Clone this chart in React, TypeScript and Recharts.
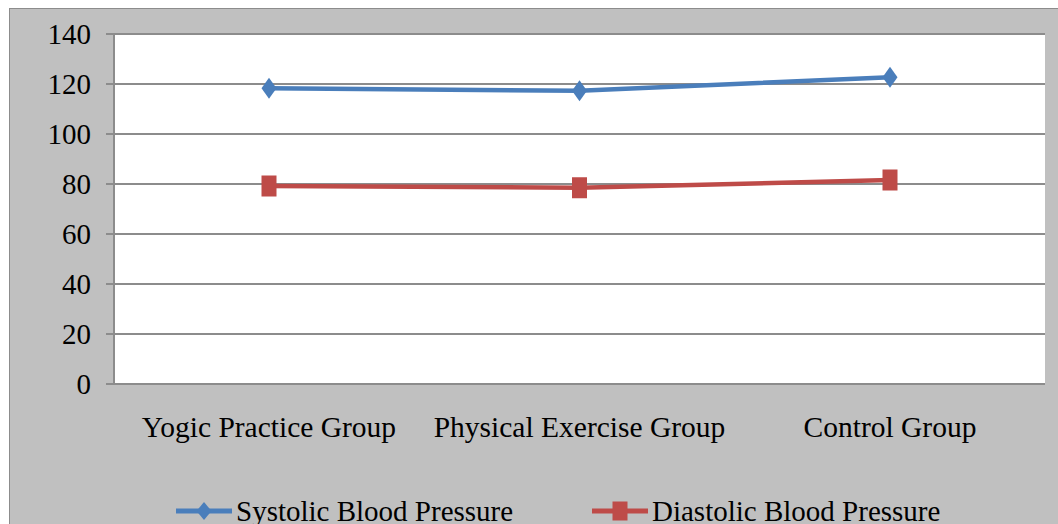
import { FC } from "react";
import {
  LineChart,
  Line,
  XAxis,
  YAxis,
  CartesianGrid,
  Legend,
} from "recharts";

const categories = [
  "Yogic Practice Group",
  "Physical Exercise Group",
  "Control Group",
];
const systolic = [118.3, 117.3, 122.7];
const diastolic = [79.2, 78.5, 81.6];
const yTicks = [0, 20, 40, 60, 80, 100, 120, 140];
const boundaryTicks = [0, 1, 2, 3];

const data = categories.map((name, i) => ({
  name,
  systolic: systolic[i],
  diastolic: diastolic[i],
}));

const BLUE = "#4a7ebb";
const RED = "#be4b48";
const GRID = "#8c8c8c";
const FONT = "'Liberation Serif', 'Times New Roman', serif";

const Diamond = ({ cx, cy }: any) =>
  cx == null ? null : (
    <polygon
      points={`${cx},${cy - 10.5} ${cx + 7.5},${cy} ${cx},${cy + 10.5} ${cx - 7.5},${cy}`}
      fill={BLUE}
    />
  );

const Square = ({ cx, cy }: any) =>
  cx == null ? null : (
    <rect x={cx - 7.5} y={cy - 10.5} width={15} height={21} fill={RED} />
  );

const CategoryTick = ({ x, y, payload }: any) => (
  <text
    x={x}
    y={y + 53}
    textAnchor="middle"
    fill="#000"
    fontSize={29.5}
    fontFamily={FONT}
  >
    {payload.value}
  </text>
);

const LegendIcon: FC<{ color: string; shape: "diamond" | "square" }> = ({
  color,
  shape,
}) => (
  <svg width={56} height={24} style={{ marginRight: 4, flexShrink: 0 }}>
    <line x1={0} y1={12} x2={56} y2={12} stroke={color} strokeWidth={5} />
    {shape === "diamond" ? (
      <polygon points="28,3 35.5,12 28,21 20.5,12" fill={color} />
    ) : (
      <rect x={20.5} y={2.5} width={15} height={19} fill={color} />
    )}
  </svg>
);

const renderLegend = () => (
  <div
    style={{
      display: "flex",
      alignItems: "center",
      paddingLeft: 166,
      fontFamily: FONT,
      fontSize: 29,
      lineHeight: "30px",
      color: "#000",
      whiteSpace: "nowrap",
    }}
  >
    <LegendIcon color={BLUE} shape="diamond" />
    <span style={{ display: "inline-block", width: 356 }}>
      Systolic Blood Pressure
    </span>
    <LegendIcon color={RED} shape="square" />
    <span>Diastolic Blood Pressure</span>
  </div>
);

const App: FC = () => {
  return (
    <div
      style={{
        position: "fixed",
        left: 0,
        top: 0,
        width: 1058,
        height: 524,
        background: "#fff",
        overflow: "hidden",
      }}
    >
      <div
        style={{
          position: "absolute",
          left: 9,
          top: 8,
          width: 1048,
          height: 515,
          background: "#c0c0c0",
          borderTop: `1px solid ${GRID}`,
          borderLeft: `1px solid ${GRID}`,
        }}
      >
        <LineChart
          width={1048}
          height={515}
          data={data}
          margin={{ top: 25, right: 13, left: 0, bottom: 0 }}
        >
          <CartesianGrid
            vertical={false}
            fill="#fff"
            stroke={GRID}
            strokeWidth={2}
          />
          <XAxis
            xAxisId="bounds"
            type="number"
            domain={[0, 3]}
            ticks={boundaryTicks}
            tick={false}
            height={0}
            tickSize={8}
            axisLine={false}
            tickLine={{ stroke: GRID, strokeWidth: 2 }}
          />
          <XAxis
            dataKey="name"
            height={140}
            padding={{ left: 155, right: 155 }}
            tickSize={0}
            tickMargin={0}
            tickLine={false}
            axisLine={{ stroke: GRID, strokeWidth: 2 }}
            tick={<CategoryTick />}
            interval={0}
          />
          <YAxis
            width={104}
            domain={[0, 140]}
            ticks={yTicks}
            tickSize={8}
            tickMargin={15}
            axisLine={{ stroke: GRID, strokeWidth: 2 }}
            tickLine={{ stroke: GRID, strokeWidth: 2 }}
            tick={{ fill: "#000", fontSize: 29, fontFamily: FONT }}
          />
          <Legend
            layout="horizontal"
            verticalAlign="middle"
            align="center"
            content={renderLegend}
            wrapperStyle={{ top: 487, left: 0, width: 1048 }}
          />
          <Line
            dataKey="systolic"
            name="Systolic Blood Pressure"
            stroke={BLUE}
            strokeWidth={4.5}
            dot={<Diamond />}
            activeDot={false}
            isAnimationActive={false}
          />
          <Line
            dataKey="diastolic"
            name="Diastolic Blood Pressure"
            stroke={RED}
            strokeWidth={4.5}
            dot={<Square />}
            activeDot={false}
            isAnimationActive={false}
          />
        </LineChart>
      </div>
    </div>
  );
};

export default App;
